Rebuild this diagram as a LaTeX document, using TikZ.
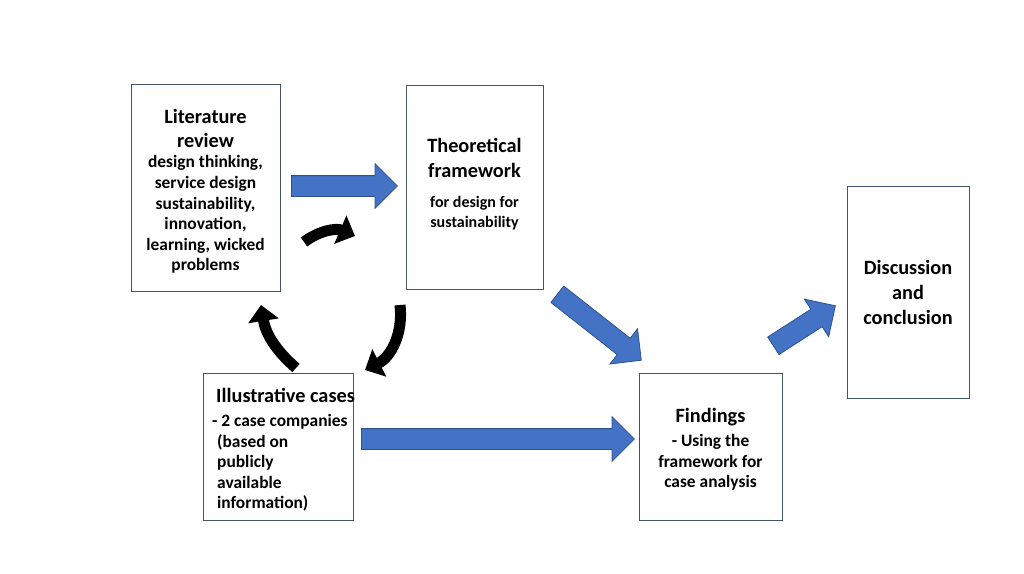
\documentclass[tikz,border=0pt]{standalone}
\usepackage{fontspec}
\setmainfont{Carlito}
\usetikzlibrary{shapes.arrows, arrows.meta, positioning, calc}

\definecolor{boxline}{RGB}{68,84,106}
\definecolor{flowblue}{RGB}{68,114,196}
\definecolor{flowedge}{RGB}{47,82,143}
\newcommand{\headfont}{\fontsize{20.3}{25}\selectfont\bfseries}
\newcommand{\bodyfont}{\fontsize{17.4}{20.6}\selectfont\bfseries}
\newcommand{\smallbody}{\fontsize{16}{20}\selectfont\bfseries}
% block arrow from one named point to another
\newcommand{\flowarrow}[2]{\path let \p1=($(#2)-(#1)$), \n1={atan2(\y1,\x1)}, \n2={veclen(\x1,\y1)} in
    node[flow, anchor=tail, rotate=\n1, minimum height=\n2] at (#1) {};}

\begin{document}
\begin{tikzpicture}[
    x=1pt, y=-1pt,
    stage/.style={rectangle, draw=boxline, line width=0.9pt, fill=white, inner sep=2pt, align=center, font=\bodyfont},
    flow/.style={single arrow, draw=flowedge, fill=flowblue, line width=0.8pt, inner xsep=0pt, inner ysep=10pt,
        text height=0pt, text depth=0pt, single arrow head extend=12pt, single arrow head indent=0pt, single arrow tip angle=90},
    loop/.style={draw, line width=11pt, -{Triangle[length=16pt, width=30pt]}}
]
    \useasboundingbox (0,0) rectangle (1024,573);

    \node [stage, minimum width=149pt, minimum height=207pt] (lit) at (205.5,187.5) {};
    \node [align=center, font=\bodyfont] (littext) at ([yshift=-4pt]lit.center)
        {{\headfont Literature}\\[3pt] {\headfont review}\\[0pt] design thinking,\\ service design\\ sustainability,\\ innovation,\\ learning, wicked\\ problems};
    \node [stage, minimum width=137pt, minimum height=204pt] (theo) at (474.5,187) {};
    \node [align=center, font=\smallbody] (theotext) at ([yshift=3pt]theo.center)
        {{\headfont Theoretical}\\[5pt] {\headfont framework}\\[10pt] for design for\\ sustainability};
    \node [stage, minimum width=150pt, minimum height=147pt] (cases) at (278,446.5) {};
    \node [align=left, anchor=west, font=\bodyfont, inner sep=0pt] (casestext) at (212,450)
        {\hspace*{4pt}{\headfont Illustrative cases}\\[3pt] - 2 case companies\\ \hspace*{5pt}(based on\\ \hspace*{5pt}publicly\\ \hspace*{5pt}available\\ \hspace*{5pt}information)};
    \node [stage, minimum width=143pt, minimum height=147pt] (find) at (710.5,446.5) {};
    \node [align=center, font=\bodyfont] (findtext) at ([yshift=-3pt]find.center)
        {{\headfont Findings}\\[3pt] - Using the\\ framework for\\ case analysis};
    \node [stage, minimum width=122pt, minimum height=212pt] (disc) at (908,292) {};
    \node [align=center, font=\headfont] (disctext) at (disc.center)
        {Discussion\\ and\\ conclusion};

    % block arrows
    \coordinate (f1s) at (291,186);  \coordinate (f1e) at (397,186);
    \coordinate (f2s) at (361,439);  \coordinate (f2e) at (634,439);
    \coordinate (f3s) at (557,294);  \coordinate (f3e) at (641,360);
    \coordinate (f4s) at (773,346);  \coordinate (f4e) at (835,306);
    \flowarrow{f1s}{f1e}
    \flowarrow{f2s}{f2e}
    \flowarrow{f3s}{f3e}
    \flowarrow{f4s}{f4e}

    % curved arrows
    \coordinate (l1s) at (304,242);  \coordinate (l1e) at (355,236);
    \coordinate (l2s) at (400,305);  \coordinate (l2e) at (365,370);
    \coordinate (l3s) at (296,368);  \coordinate (l3e) at (261,305);
    \draw [loop] (l1s) to[bend left=30] (l1e);
    \draw [loop] (l2s) to[bend left=35] (l2e);
    \draw [loop] (l3s) to[bend left=20] (l3e);
\end{tikzpicture}
\end{document}
